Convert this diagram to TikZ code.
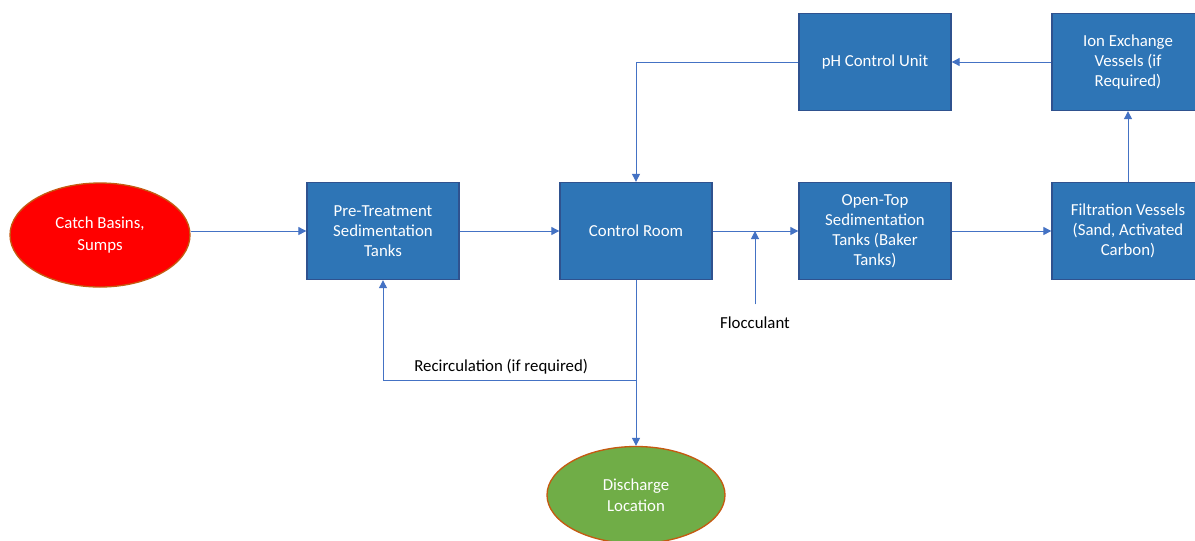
\documentclass[tikz,border=0pt]{standalone}
\usepackage{fontspec}
\setmainfont{Carlito}
\usepackage{tikz}
\usetikzlibrary{arrows.meta,positioning,shapes.geometric,calc}
\definecolor{boxblue}{RGB}{46,117,182}
\definecolor{boxedge}{RGB}{47,82,143}
\definecolor{lineblue}{RGB}{68,114,196}
\definecolor{srcred}{RGB}{255,0,0}
\definecolor{sinkgreen}{RGB}{112,173,71}
\definecolor{ovaledge}{RGB}{197,90,17}

\begin{document}
\begin{tikzpicture}[
  x=0.75pt,y=0.75pt,
  blk/.style={draw=boxedge,fill=boxblue,line width=1pt,
              minimum width=114pt,minimum height=72.75pt,align=center,
              font=\fontsize{12.6}{15}\selectfont,text=white,inner sep=2pt},
  oval/.style={ellipse,draw=ovaledge,line width=1pt,align=center,
               font=\fontsize{12.6}{16}\selectfont,text=white,inner sep=0pt},
  lbl/.style={font=\fontsize{12.6}{15}\selectfont,text=black},
  arr/.style={-{Triangle[width=6pt,length=6pt]},draw=lineblue,line width=0.75pt}
]
\path[use as bounding box,clip] (0,0) rectangle (1195,-540);
\fill[white] (0,0) rectangle (1195,-540);

% main line
\node[oval,fill=srcred,minimum width=135pt,minimum height=78pt] (catch) at (100,-235) {Catch Basins,\\Sumps};
\node[blk] (pre) at (383,-231) {Pre-Treatment\\Sedimentation\\Tanks};
\node[blk] (ctrl) at (636,-231) {Control Room};
\node[blk] (open) at (875,-231) {Open-Top\\Sedimentation\\Tanks (Baker\\Tanks)};
\node[blk] (filt) at (1128,-231) {Filtration Vessels\\(Sand, Activated\\Carbon)};

% upper line
\node[blk] (ph) at (875,-62) {pH Control Unit};
\node[blk] (ion) at (1128,-62) {Ion Exchange\\Vessels (if\\Required)};

% discharge
\node[oval,fill=sinkgreen,minimum width=133.5pt,minimum height=72.75pt] (dis) at (636,-495) {Discharge\\Location};

% labels
\node[lbl] (floclbl) at (755,-323) {Flocculant};
\coordinate (recirc) at ($(ctrl.south)+(0,-100)$);
\node[lbl,above=1pt of recirc-|pre.south,anchor=south west,xshift=20pt] (reclbl) {Recirculation (if required)};

% Arrows
\draw[arr] (catch.east|-pre.west) -- (pre.west);
\draw[arr] (pre) -- (ctrl);
\draw[arr] (ctrl) -- (open);
\draw[arr] (open) -- (filt);
\draw[arr] (filt) -- (ion);
\draw[arr] (ion) -- (ph);
\draw[arr] (ph.west) -| (ctrl.north);
\draw[arr] ([yshift=6pt]floclbl.north) -- (floclbl.north|-ctrl.east);
\draw[arr] (ctrl.south) -- (recirc) -| (pre.south);
\draw[arr] (recirc) -- (dis.north);

\end{tikzpicture}
\end{document}
